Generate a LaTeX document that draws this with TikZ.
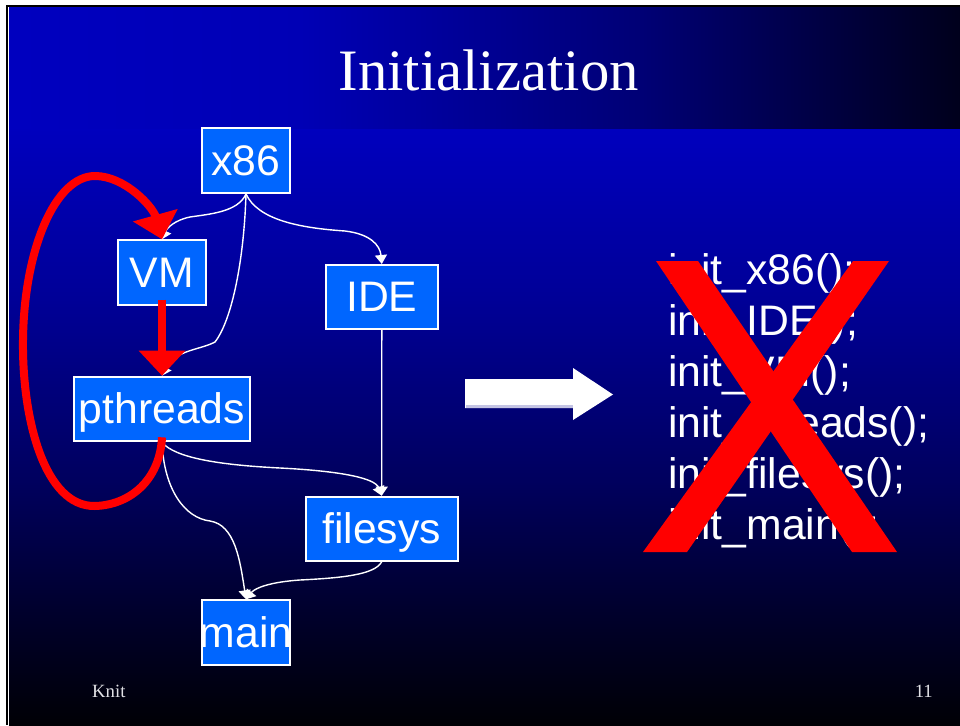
\documentclass[tikz,border=0pt]{standalone}
\usepackage{fontspec}
\setmainfont{Liberation Serif}
\newfontfamily\arialfont{Liberation Sans}
\usetikzlibrary{arrows.meta,calc}

\definecolor{boxblue}{RGB}{0,102,255}
\definecolor{footgray}{RGB}{225,225,230}
\definecolor{shaftshade}{RGB}{196,196,228}

% slide background: blue fading to black downwards
\pgfdeclareverticalshading{slidebg}{100bp}{%
  rgb(0bp)=(0,0,0.02); rgb(25bp)=(0,0,0.02); rgb(33.7bp)=(0,0,0.19);
  rgb(42.1bp)=(0,0,0.37); rgb(54.6bp)=(0,0,0.59); rgb(66.6bp)=(0,0,0.745);
  rgb(75bp)=(0,0,0.76); rgb(100bp)=(0,0,0.76)}
% title band: blue fading to black to the right
\pgfdeclarehorizontalshading{titleband}{100bp}{%
  rgb(0bp)=(0,0,0.75); rgb(25bp)=(0,0,0.75); rgb(40.3bp)=(0,0,0.71);
  rgb(58.2bp)=(0,0,0.46); rgb(75bp)=(0,0,0.11); rgb(100bp)=(0,0,0.11)}

\begin{document}
\begin{tikzpicture}[x=1pt,y=-1pt,
  box/.style={fill=boxblue, draw=white, line width=2pt, text=white,
    font=\arialfont\fontsize{42.7}{51}\selectfont, inner sep=0pt,
    text height=32pt, text depth=3pt},
  codeline/.style={anchor=base west, inner sep=0pt, text=white,
    font=\arialfont\fontsize{42.7}{51}\selectfont},
  link/.style={draw=white, line width=1.4pt,
    -{Triangle[length=9pt,width=12pt]}},
  redlink/.style={draw=red, line width=8pt, line join=round,
    -{Triangle[length=25pt,width=45pt]}},
  footer/.style={inner sep=0pt, text=footgray,
    font=\fontsize{18.7}{22}\selectfont}
]
\useasboundingbox (0,0) rectangle (960,725);

% page margin and slide frame
\fill[white] (0,0) rectangle (960,725);
\fill[black] (6,5) rectangle (960,725);
\fill[white] (8,7) rectangle (960,725);
\shade[shading=slidebg] (9,8) rectangle (960,725);
\shade[shading=titleband] (9,8) rectangle (960,128);

% title
\node[anchor=base, inner sep=0pt, text=white,
      font=\fontsize{58.7}{64}\selectfont] (title) at (488.7,90) {Initialization};

% dependency graph
\node[box, minimum width=88.6pt, minimum height=64.5pt] (x86) at (246,160.7) {x86};
\node[box, minimum width=88.6pt, minimum height=64.4pt] (VM) at (162,272.5) {VM};
\node[box, minimum width=112.5pt, minimum height=64pt] (IDE) at (381.8,297) {IDE};
\node[box, minimum width=176.6pt, minimum height=64.6pt] (pthreads) at (162,409) {pthreads};
\node[box, minimum width=152pt, minimum height=64pt] (filesys) at (381.7,528.7) {filesys};
\node[box, minimum width=88.6pt, minimum height=64.4pt] (main) at (246,632.5) {\makebox[0pt]{main}};

\begin{scope}[on background layer/.style={}]
\path[link] (x86.south) .. controls (238,212) and (210,214) .. (190,217)
                        .. controls (175,220) and (167,228) .. (VM.north);
\path[link] (x86.south) .. controls (244,260) and (232,320) .. (215,342)
                        .. controls (200,350) and (175,350) .. (pthreads.north);
\path[link] (x86.south) .. controls (258,220) and (300,228) .. (345,231)
                        .. controls (370,234) and (380,245) .. (IDE.north);
\path[link] (IDE.south) -- (filesys.north);
\path[link] (pthreads.south) .. controls (175,458) and (220,465) .. (280,468)
                             .. controls (340,471) and (375,478) .. (filesys.north);
\path[link] (pthreads.south) .. controls (164,490) and (185,518) .. (210,521)
                             .. controls (235,525) and (240,560) .. (main.north);
\path[link] (filesys.south) .. controls (375,575) and (340,578) .. (300,580)
                            .. controls (270,582) and (255,588) .. (main.north);
\end{scope}

% red corrections
\path[redlink] ($(VM.south)+(0,-6)$) -- (pthreads.north);
\path[redlink] ($(pthreads.south)+(0,-5)$)
    .. controls (160,480) and (130,505) .. (95,506)
    .. controls (45,507) and (22,420) .. (23,340)
    .. controls (24,250) and (55,176) .. (95,176)
    .. controls (125,176) and (153,207) .. (VM.north);

% big white arrow
\fill[white] (465,379) -- (573,379) -- (573,368) -- (613,394.5)
             -- (573,420) -- (573,408) -- (465,408) -- cycle;
\fill[shaftshade] (466,405) rectangle (573,408);

% initialisation sequence
\node[codeline] (c1) at (668,284) {init\_x86();};
\node[codeline] (c2) at (668,335) {init\_IDE();};
\node[codeline] (c3) at (668,386) {init\_VM();};
\node[codeline] (c4) at (668,437) {init\_threads();};
\node[codeline] (c5) at (668,488) {init\_filesys();};
\node[codeline] (c6) at (668,539) {init\_main();};

% crossed out
\fill[red] (656,261) -- (698,261) -- (897,552) -- (852,552) -- cycle;
\fill[red] (853,261) -- (889,261) -- (687,552) -- (643,552) -- cycle;

% footer
\node[footer, anchor=base west] (knit) at (92,697) {Knit};
\node[footer, anchor=base east] (pageno) at (933,697) {11};
\end{tikzpicture}
\end{document}
